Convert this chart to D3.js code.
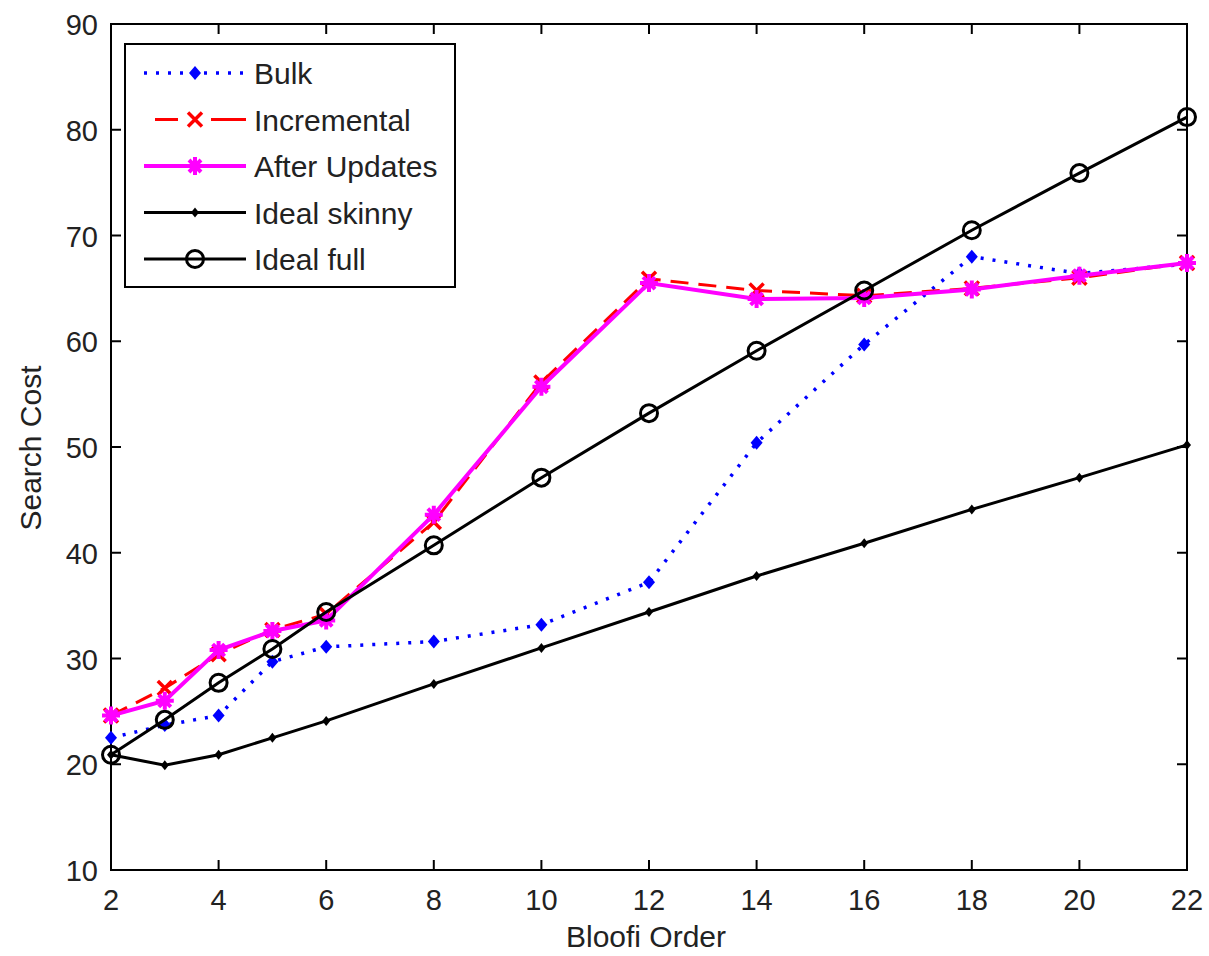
<!DOCTYPE html>
<html><head><meta charset="utf-8">
<script src="https://cdn.jsdelivr.net/npm/d3@7"></script>
<style>body{margin:0;background:#fff}svg{display:block}text{font-family:"Liberation Sans",Arial,sans-serif}</style>
</head><body><svg id="c" width="1209" height="956"></svg>
<script>
const xVals = [2,3,4,5,6,8,10,12,14,16,18,20,22];
const bulk = [22.5,23.7,24.6,29.7,31.1,31.6,33.2,37.2,50.4,59.7,68.0,66.4,67.3];
const incremental = [24.6,27.2,30.4,32.7,34.2,42.9,56.1,65.9,64.8,64.3,65.0,66.0,67.4];
const afterUpdates = [24.6,26.0,30.8,32.6,33.6,43.6,55.7,65.5,64.0,64.1,64.9,66.2,67.4];
const idealSkinny = [20.9,19.9,20.9,22.5,24.1,27.6,31.0,34.4,37.8,40.9,44.1,47.1,50.2];
const idealFull = [20.9,24.2,27.7,30.9,34.4,40.7,47.1,53.2,59.1,64.8,70.5,75.9,81.2];
const xTicks = [2,4,6,8,10,12,14,16,18,20,22];
const yTicks = [10,20,30,40,50,60,70,80,90];
const seriesNames = ["Bulk","Incremental","After Updates","Ideal skinny","Ideal full"];

const svg = d3.select("#c");
const L=111,R=1187,T=24,B=870;
const x = d3.scaleLinear().domain([2,22]).range([L,R]);
const y = d3.scaleLinear().domain([10,90]).range([B,T]);

const series = [
  {name:seriesNames[0], vals:bulk, color:"#0000ff", width:3.5, dash:"3,9", legDash:"3,9", marker:"dot"},
  {name:seriesNames[1], vals:incremental, color:"#ff0000", width:3, dash:"18,10", legDash:"0,11,23,33,33", marker:"x"},
  {name:seriesNames[2], vals:afterUpdates, color:"#ff00ff", width:4, dash:null, marker:"star"},
  {name:seriesNames[3], vals:idealSkinny, color:"#000000", width:3, dash:null, marker:"smalldot"},
  {name:seriesNames[4], vals:idealFull, color:"#000000", width:3, dash:null, marker:"circle"}
];

function drawMarker(g, type, cx, cy, color){
  if(type==="dot"){
    g.append("path").attr("d",`M${cx},${cy-7}L${cx+6},${cy}L${cx},${cy+7}L${cx-6},${cy}Z`).attr("fill",color);
  } else if(type==="smalldot"){
    g.append("path").attr("d",`M${cx},${cy-5}L${cx+4},${cy}L${cx},${cy+5}L${cx-4},${cy}Z`).attr("fill",color);
  } else if(type==="x"){
    const s=7;
    g.append("path").attr("d",`M${cx-s},${cy-s}L${cx+s},${cy+s}M${cx-s},${cy+s}L${cx+s},${cy-s}`).attr("stroke",color).attr("stroke-width",3.5);
  } else if(type==="star"){
    const s=9;
    g.append("path").attr("d",`M${cx-s},${cy}L${cx+s},${cy}M${cx},${cy-s}L${cx},${cy+s}M${cx-6},${cy-6}L${cx+6},${cy+6}M${cx-6},${cy+6}L${cx+6},${cy-6}`).attr("stroke",color).attr("stroke-width",4);
  } else if(type==="circle"){
    g.append("circle").attr("cx",cx).attr("cy",cy).attr("r",8.5).attr("fill","none").attr("stroke",color).attr("stroke-width",3);
  }
}

const FS = 29;
const ax = svg.append("g");
ax.append("rect").attr("x",L).attr("y",T).attr("width",R-L).attr("height",B-T).attr("fill","none").attr("stroke","#000").attr("stroke-width",2);
xTicks.forEach(t=>{
  ax.append("line").attr("x1",x(t)).attr("x2",x(t)).attr("y1",B).attr("y2",B-10).attr("stroke","#000").attr("stroke-width",2);
  ax.append("line").attr("x1",x(t)).attr("x2",x(t)).attr("y1",T).attr("y2",T+10).attr("stroke","#000").attr("stroke-width",2);
  ax.append("text").attr("x",x(t)).attr("y",B+40).attr("text-anchor","middle").attr("font-size",FS).attr("fill","#222").text(t);
});
yTicks.forEach(t=>{
  ax.append("line").attr("x1",L).attr("x2",L+10).attr("y1",y(t)).attr("y2",y(t)).attr("stroke","#000").attr("stroke-width",2);
  ax.append("line").attr("x1",R).attr("x2",R-10).attr("y1",y(t)).attr("y2",y(t)).attr("stroke","#000").attr("stroke-width",2);
  ax.append("text").attr("x",L-13).attr("y",y(t)+11).attr("text-anchor","end").attr("font-size",FS).attr("fill","#222").text(t);
});
svg.append("text").attr("x",646).attr("y",947).attr("text-anchor","middle").attr("font-size",30).attr("fill","#222").text("Bloofi Order");
svg.append("text").attr("transform",`translate(41,448) rotate(-90)`).attr("text-anchor","middle").attr("font-size",30).attr("fill","#222").text("Search Cost");

const line = d3.line().x((d,i)=>x(xVals[i])).y(d=>y(d));
const plot = svg.append("g");
series.forEach(s=>{
  const p = plot.append("path").datum(s.vals).attr("d",line).attr("fill","none").attr("stroke",s.color).attr("stroke-width",s.width);
  if(s.dash) p.attr("stroke-dasharray",s.dash);
  s.vals.forEach((v,i)=>drawMarker(plot,s.marker,x(xVals[i]),y(v),s.color));
});

const lg = svg.append("g");
lg.append("rect").attr("x",125).attr("y",44).attr("width",330).attr("height",243).attr("fill","#fff").attr("stroke","#000").attr("stroke-width",2);
series.forEach((s,i)=>{
  const ly = 73 + i*46.5;
  const l = lg.append("line").attr("x1",144).attr("x2",246).attr("y1",ly).attr("y2",ly).attr("stroke",s.color).attr("stroke-width",s.width);
  if(s.legDash) l.attr("stroke-dasharray", s.legDash);
  drawMarker(lg,s.marker,195,ly,s.color);
  lg.append("text").attr("x",254).attr("y",ly+11).attr("font-size",30).attr("fill","#222").text(s.name);
});
</script></body></html>
